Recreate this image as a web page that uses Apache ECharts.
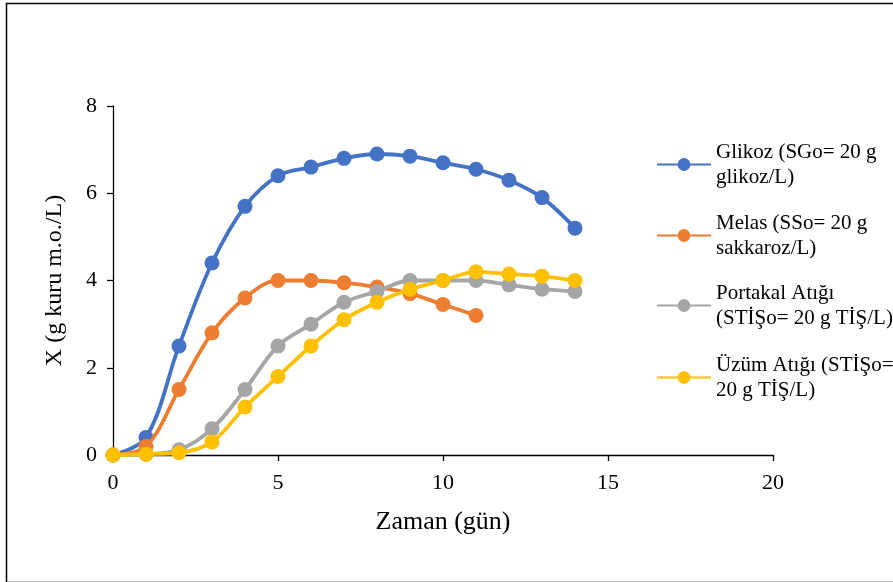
<!DOCTYPE html>
<html>
<head>
<meta charset="utf-8">
<script src="https://cdn.jsdelivr.net/npm/echarts@6/dist/echarts.min.js"></script>
<style>html,body{margin:0;padding:0;background:#fff}#c{width:893px;height:582px}</style>
</head>
<body>
<div id="c"></div>
<script>
const days = [0,1,2,3,4,5,6,7,8,9,10,11,12,13,14];
const glikoz = [0,0.4,2.5,4.4,5.7,6.4,6.6,6.8,6.9,6.85,6.7,6.55,6.3,5.9,5.2];
const melas = [0,0.2,1.5,2.8,3.6,4.0,4.0,3.95,3.85,3.7,3.45,3.2];
const portakal = [0,0.02,0.12,0.6,1.5,2.5,3.0,3.5,3.75,4.0,4.0,4.0,3.9,3.8,3.75];
const uzum = [0,0.02,0.05,0.3,1.1,1.8,2.5,3.1,3.5,3.8,4.0,4.2,4.15,4.1,4.0];
const seriesNames = [
  'Glikoz (SGo= 20 g\nglikoz/L)',
  'Melas (SSo= 20 g\nsakkaroz/L)',
  'Portakal Atığı\n(STİŞo= 20 g TİŞ/L)',
  'Üzüm Atığı (STİŞo=\n20 g TİŞ/L)'
];
const seriesData = [glikoz, melas, portakal, uzum];
const colors = ['#4472C4','#ED7D31','#A5A5A5','#FFC000'];
const xTicks = {min:0, max:20, interval:5};
const yTicks = {min:0, max:8, interval:2};

const font = 'Liberation Serif, Times New Roman, serif';
const legendTops = [122, 193, 263, 335];

const chart = echarts.init(document.getElementById('c'));
chart.setOption({
  animation:false,
  backgroundColor:'#fff',
  graphic:[{type:'rect', left:4, top:1, shape:{width:900, height:579}, style:{fill:'none', stroke:'#000', lineWidth:1.5}, silent:true}],
  grid:{left:113, right:120, top:106, bottom:127, containLabel:false},
  legend: seriesNames.map((n,i)=>({
    data:[n], orient:'vertical', left:651, top:legendTops[i],
    itemWidth:54, itemHeight:16,
    textStyle:{fontFamily:font, fontSize:21, color:'#000', lineHeight:25, padding:[25,0,0,0]}
  })),
  xAxis:{type:'value', min:xTicks.min, max:xTicks.max, interval:xTicks.interval,
    name:'Zaman (gün)', nameLocation:'middle', nameGap:54,
    nameTextStyle:{fontFamily:font, fontSize:26, color:'#000'},
    axisLine:{lineStyle:{color:'#000', width:1.3}},
    axisTick:{show:true, inside:false, length:6, lineStyle:{color:'#000', width:1.3}},
    axisLabel:{fontFamily:font, fontSize:22, color:'#000', margin:17},
    splitLine:{show:false}},
  yAxis:{type:'value', min:yTicks.min, max:yTicks.max, interval:yTicks.interval,
    name:'X (g kuru m.o./L)', nameLocation:'middle', nameGap:46,
    nameTextStyle:{fontFamily:font, fontSize:24, color:'#000'},
    axisLine:{show:true, lineStyle:{color:'#000', width:1.3}},
    axisTick:{show:true, inside:false, length:6, lineStyle:{color:'#000', width:1.3}},
    axisLabel:{fontFamily:font, fontSize:22, color:'#000', margin:16},
    splitLine:{show:false}},
  series: seriesData.map((d,i)=>({
    name:seriesNames[i], type:'line', smooth:0.35,
    data:d.map((v,k)=>[days[k], v]),
    symbol:'circle', symbolSize:15,
    lineStyle:{color:colors[i], width:3.8},
    itemStyle:{color:colors[i]},
    z: 2+i
  }))
});
</script>
</body>
</html>
